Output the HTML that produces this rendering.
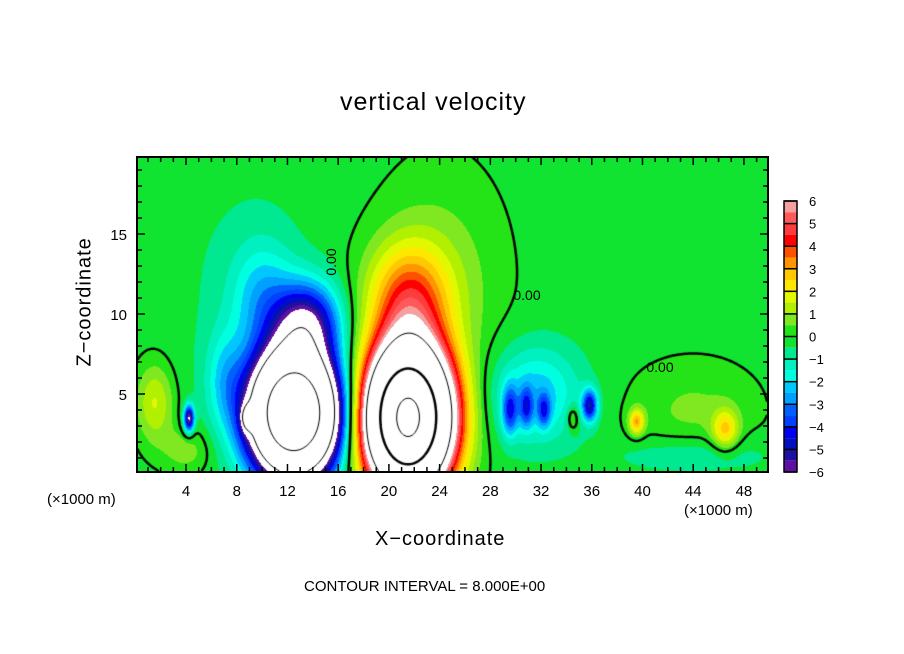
<!DOCTYPE html>
<html><head><meta charset="utf-8"><style>
body{margin:0;background:#fff;width:904px;height:654px;position:relative;overflow:hidden;font-family:"Liberation Sans",sans-serif}
.t{position:absolute;white-space:nowrap;color:#000}
canvas{position:absolute;left:137px;top:157px}
svg{position:absolute;left:0;top:0}
</style></head><body>
<div class="t" style="left:340px;top:88px;font-size:25px;letter-spacing:1px">vertical velocity</div>
<div class="t" style="left:30px;top:300px;font-size:20px;transform:rotate(-90deg);transform-origin:center;width:110px;text-align:center;letter-spacing:1px">Z−coordinate</div>
<div class="t" style="left:375px;top:528px;font-size:20px;letter-spacing:1px">X−coordinate</div>
<div class="t" style="left:47px;top:491px;font-size:15px">(×1000 m)</div>
<div class="t" style="left:684px;top:502px;font-size:15px">(×1000 m)</div>
<div class="t" style="left:304px;top:578px;font-size:15px">CONTOUR INTERVAL = 8.000E+00</div>
<canvas id="cv" width="631" height="315"></canvas>
<svg id="sv" width="904" height="654"></svg>
<script>
// field model: blobs
const blobX=[21.5,21.5,12.5,13.5,10,7,4.2,8.8,1.5,4,31.5,29.5,30.8,32.2,35.8,34.5,39.5,46.5,44,24,8,44];
const blobZ=[3.5,11,3.8,9.5,11,6,3.5,3.5,4.5,1.5,5,4,4.2,4,4.3,3.5,3.3,2.8,4,12,12,1.2];
const blobAmp=[26,3.5,-24,-5,-2,-1.5,-6,-4,1.8,1,-2.2,-3,-2.5,-2.5,-4.5,1.5,3,2.5,0.8,0.9,-0.3,-0.9];
const blobSx=[3.2,3.2,3.2,2.5,2.5,1.5,0.4,0.5,1.5,2,3.5,0.6,0.5,0.5,0.6,0.5,0.6,1,5,5,7,6];
const blobSz=[4.2,3.5,3.6,2.5,3.5,3,0.8,0.8,2.5,1.5,3,1.5,1.2,1,1,0.8,0.8,1.2,3,7,10,1.2];
const baseW=-0.2;
const cbLabels=[6,5,4,3,2,1,0,-1,-2,-3,-4,-5,-6];
const xTicks=[4,8,12,16,20,24,28,32,36,40,44,48];
const zTicks=[5,10,15];
const X0=137,Y0=157,W=631,H=315;
const xs=x=>135.3+x*12.68, zs=z=>474-z*16;
const xi=p=>(p-135.3)/12.68, zi=p=>(474-p)/16;
function wAt(x,z){let s=baseW;for(let i=0;i<blobX.length;i++){const a=(x-blobX[i])/blobSx[i],b=(z-blobZ[i])/blobSz[i];s+=blobAmp[i]*Math.exp(-a*a-b*b);}return s;}
const stops=[[-6,[96,16,160]],[-5.5,[32,16,160]],[-5,[0,16,192]],[-4.5,[0,0,240]],[-4,[0,64,255]],[-3.5,[0,96,255]],[-3,[0,160,255]],[-2.5,[0,200,255]],[-2,[0,255,224]],[-1.5,[0,240,192]],[-1,[0,232,144]],[-0.5,[16,228,48]],[0,[36,228,24]],[0.5,[128,232,32]],[1,[176,240,0]],[1.5,[224,248,0]],[2,[255,232,0]],[2.5,[255,200,0]],[3,[255,150,0]],[3.5,[255,80,0]],[4,[255,0,0]],[4.5,[255,60,60]],[5,[255,90,90]],[5.5,[245,160,160]]];
function col(v){if(v>=6||v<-6)return [255,255,255];let c=stops[0][1];for(const s of stops){if(v>=s[0])c=s[1];}return c;}
const cv=document.getElementById('cv'),ctx=cv.getContext('2d');
const img=ctx.createImageData(W,H);
const G=[];const step=2;
for(let j=0;j<H;j++){for(let i=0;i<W;i++){const v=wAt(xi(X0+i),zi(Y0+j));const c=col(v);const k=(j*W+i)*4;img.data[k]=c[0];img.data[k+1]=c[1];img.data[k+2]=c[2];img.data[k+3]=255;}}
ctx.putImageData(img,0,0);
// contours
for(let j=0;j<=H;j+=step){const r=[];for(let i=0;i<=W;i+=step)r.push(wAt(xi(X0+i),zi(Y0+j)));G.push(r);}
const levels=[-16,-8,0,8,16,24];
for(const L of levels){ctx.beginPath();ctx.strokeStyle='#000';ctx.lineWidth=(L===0||L===16)?2.5:1;ctx.setLineDash(L<0?[5,3]:[]);
for(let j=0;j<G.length-1;j++)for(let i=0;i<G[0].length-1;i++){const a=G[j][i],b=G[j][i+1],c=G[j+1][i+1],d=G[j+1][i];const pts=[];
const e=(v1,v2,x1,y1,x2,y2)=>{if((v1<L)!==(v2<L)){const t=(L-v1)/(v2-v1);pts.push([x1+(x2-x1)*t,y1+(y2-y1)*t]);}};
const x=i*step,y=j*step;e(a,b,x,y,x+step,y);e(b,c,x+step,y,x+step,y+step);e(c,d,x+step,y+step,x,y+step);e(d,a,x,y+step,x,y);
for(let k=0;k+1<pts.length;k+=2){ctx.moveTo(pts[k][0],pts[k][1]);ctx.lineTo(pts[k+1][0],pts[k+1][1]);}}
ctx.stroke();}
ctx.setLineDash([]);
// axes
const sv=document.getElementById('sv');const NS='http://www.w3.org/2000/svg';
function el(t,at,txt){const e=document.createElementNS(NS,t);for(const k in at)e.setAttribute(k,at[k]);if(txt!==undefined)e.textContent=txt;sv.appendChild(e);return e;}
const fr=el('rect',{x:X0,y:Y0,width:W,height:H,fill:'none',stroke:'#000','stroke-width':2});


for(let x=1;x<50;x++){const p=xs(x);const len=x%4===0?8:5;
el('line',{x1:p,y1:Y0+H,x2:p,y2:Y0+H-len,stroke:'#000','stroke-width':1.5});el('line',{x1:p,y1:Y0,x2:p,y2:Y0+len,stroke:'#000','stroke-width':1.5});}
for(let z=1;z<20;z++){const p=zs(z);const len=z%5===0?8:5;
el('line',{x1:X0,y1:p,x2:X0+len,y2:p,stroke:'#000','stroke-width':1.5});el('line',{x1:X0+W,y1:p,x2:X0+W-len,y2:p,stroke:'#000','stroke-width':1.5});}
xTicks.forEach(v=>{const t=el('text',{x:xs(v),y:496,'font-size':15,'text-anchor':'middle','font-family':'Liberation Sans'},String(v));

});
zTicks.forEach(v=>{const t=el('text',{x:127,y:zs(v)+6,'font-size':15,'text-anchor':'end','font-family':'Liberation Sans'},String(v));

});
// contour labels
[[336,262,-90],[527,300,0],[660,372,0]].forEach(a=>{const t=el('text',{x:a[0],y:a[1],'font-size':14,'text-anchor':'middle','font-family':'Liberation Sans',transform:`rotate(${a[2]} ${a[0]} ${a[1]})`,fill:'#000'},'0.00');

});
// colorbar
const cbT=201,cbB=472,cbL=784,cbW=13,n=24,bh=(cbB-cbT)/n;
for(let k=0;k<n;k++){const v=6-(k+0.5)*0.5;const c=col(v);const r=el('rect',{x:cbL,y:cbT+k*bh,width:cbW,height:bh,fill:`rgb(${c[0]},${c[1]},${c[2]})`});

}
for(let k=0;k<=12;k++){el('line',{x1:cbL,y1:cbT+k*2*bh,x2:cbL+cbW,y2:cbT+k*2*bh,stroke:'#000','stroke-width':1.5});}
el('rect',{x:cbL,y:cbT,width:cbW,height:cbB-cbT,fill:'none',stroke:'#000','stroke-width':1.5});
cbLabels.forEach((v,k)=>{const t=el('text',{x:809,y:cbT+k*2*bh+5,'font-size':13,'text-anchor':'start','font-family':'Liberation Sans'},String(v).replace('-','−'));

});
</script>
</body></html>
